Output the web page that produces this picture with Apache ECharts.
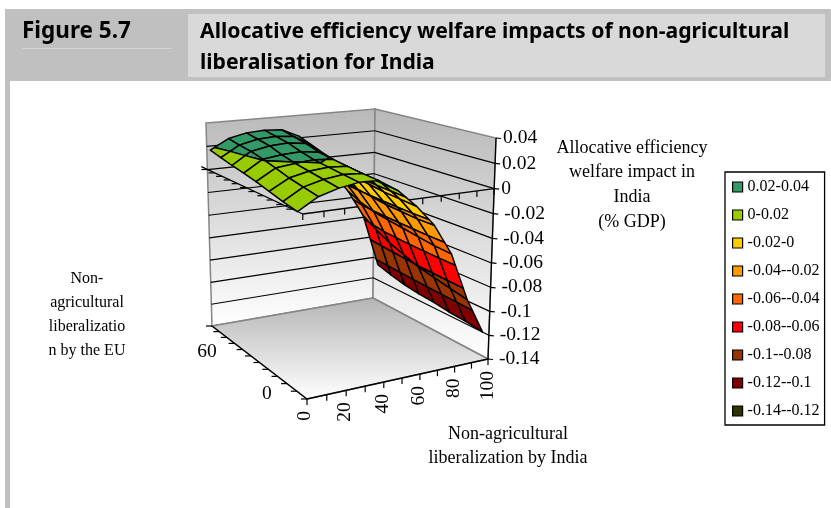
<!DOCTYPE html>
<html><head><meta charset="utf-8">
<style>html,body{margin:0;padding:0;background:#fff}#c{width:831px;height:508px}</style>
<script src="https://cdn.jsdelivr.net/npm/echarts@6/dist/echarts.min.js"></script></head>
<body><div id="c"></div>
<script>
// ---- data ----
const indiaLib = [0,10,20,30,40,50,60,70,80,90,100];
const indiaTickLabels = ['0','','20','','40','','60','','80','','100'];
const euSlots = [0,10,20,30,40,50,60,70,80,90,100];
const euTickLabels = ['0','','','','','','60','','','',''];
const zTicks = [0.04,0.02,0,-0.02,-0.04,-0.06,-0.08,-0.1,-0.12,-0.14];
const zTickLabels = ['0.04','0.02','0','-0.02','-0.04','-0.06','-0.08','-0.1','-0.12','-0.14'];
const row0 = [0,    .009, .0135,.016, .0155,.006, -.008,-.025,-.050,-.090,-.120];
const row1 = [.0025,.0115,.0155,.0175,.0165,.0075,-.007,-.025,-.049,-.087,-.118];
const row2 = [.0055,.014, .0175,.019, .018, .009, -.006,-.024,-.047,-.084,-.117];
const row3 = [.0085,.0175,.0195,.0208,.0195,.0105,-.004,-.023,-.045,-.081,-.115];
const row4 = [.011, .0205,.0225,.0235,.0215,.012, -.002,-.021,-.043,-.076,-.114];
const row5 = [.013, .023, .026, .027, .025, .015,  .000,-.019,-.041,-.071,-.112];
const row6 = [.0155,.0245,.028, .029, .0275,.019,  .002,-.016,-.037,-.064,-.109];
const row7 = [.018, .0265,.030, .031, .030, .023,  .004,-.012,-.031,-.056,-.105];
const surface = [row0,row1,row2,row3,row4,row5,row6,row7];
const bandNames = ['0.02-0.04','0-0.02','-0.02-0','-0.04--0.02','-0.06--0.04','-0.08--0.06','-0.1--0.08','-0.12--0.1','-0.14--0.12'];
const bandLo = [0.02,0,-0.02,-0.04,-0.06,-0.08,-0.1,-0.12,-0.14];
const bandHi = [0.04,0.02,0,-0.02,-0.04,-0.06,-0.08,-0.1,-0.12];
const bandColors = ['#339966','#99cc00','#ffcc00','#ff9900','#ff6600','#ff0000','#993300','#800000','#333300'];

// ---- oblique 3D view of the box: corners order front, right, back, left ----
const floorQuad = [[307,399],[488,359],[373,298],[212,326]];
const ceilQuad  = [[301.5,159],[496,138],[375,109],[206,123]];
const zMin=-0.14, zMax=0.04, perspK=0.041, catInset=0.5/11;
function homography(q){
  const [x0,y0]=q[0],[x1,y1]=q[1],[x2,y2]=q[2],[x3,y3]=q[3];
  const dx1=x1-x2,dx2=x3-x2,sx=x0-x1+x2-x3,dy1=y1-y2,dy2=y3-y2,sy=y0-y1+y2-y3;
  const den=dx1*dy2-dx2*dy1,g=(sx*dy2-dx2*sy)/den,h=(dx1*sy-sx*dy1)/den;
  const a=x1-x0+g*x1,b=x3-x0+h*x3,d=y1-y0+g*y1,e=y3-y0+h*y3;
  return (u,v)=>{const w=g*u+h*v+1;return [(a*u+b*v+x0)/w,(d*u+e*v+y0)/w];};
}
const hF=homography(floorQuad),hC=homography(ceilQuad);
function project(u,v,z){
  let f=(z-zMin)/(zMax-zMin); f=f/(1+perspK*(1-f));
  const p=hF(u,v),q=hC(u,v);
  return [p[0]+(q[0]-p[0])*f,p[1]+(q[1]-p[1])*f];
}
const uOf=i=>i/(indiaLib.length-1);
const vOf=j=>catInset+(1-2*catInset)*j/(surface.length-1);
const vBand=j=>(j+0.5)/euSlots.length;

function clip(poly,limit,keepAbove){
  const out=[];
  for(let k=0;k<poly.length;k++){
    const a=poly[k],b=poly[(k+1)%poly.length];
    const ina=keepAbove?a[2]>=limit:a[2]<=limit, inb=keepAbove?b[2]>=limit:b[2]<=limit;
    if(ina)out.push(a);
    if(ina!==inb){const t=(limit-a[2])/(b[2]-a[2]);out.push([a[0]+(b[0]-a[0])*t,a[1]+(b[1]-a[1])*t,limit]);}
  }
  return out;
}
function cellBand(i,j,b){
  const c=[[uOf(i),vOf(j),surface[j][i]],[uOf(i+1),vOf(j),surface[j][i+1]],
           [uOf(i+1),vOf(j+1),surface[j+1][i+1]],[uOf(i),vOf(j+1),surface[j+1][i]]];
  let p=clip(c,bandLo[b],true); if(p.length>2)p=clip(p,bandHi[b],false);
  return p;
}
const blk='#000', wallEdge='#858585', serif='"Liberation Serif"', tickFont='19.5px '+serif;
const grad=(a,b,x0,y0,x1,y1)=>new echarts.graphic.LinearGradient(x0,y0,x1,y1,[{offset:0,color:a},{offset:1,color:b}]);
const line=(a,b,stroke,w)=>({type:'line',shape:{x1:a[0],y1:a[1],x2:b[0],y2:b[1]},style:{stroke,lineWidth:w}});

const series=[];
// walls and floor
series.push({type:'custom',coordinateSystem:'none',silent:true,z:1,animation:false,data:[0,1,2],renderItem(p,api){
  const k=api.value(0);
  const quads=[[[0,1],[1,1]],[[1,1],[1,0]]];
  if(k<2){
    const [a,b]=quads[k];
    const pts=[project(a[0],a[1],zMax),project(b[0],b[1],zMax),project(b[0],b[1],zMin),project(a[0],a[1],zMin)];
    return {type:'polygon',shape:{points:pts},style:{fill:grad('#b8b8b8','#ffffff',0,0,0,1),stroke:wallEdge,lineWidth:1.5}};
  }
  return {type:'polygon',shape:{points:[[0,0],[1,0],[1,1],[0,1]].map(c=>project(c[0],c[1],zMin))},
    style:{fill:grad('#b4b4b4','#ffffff',0,0,0,1),stroke:wallEdge,lineWidth:1.5}};
}});
// z grid lines, tick marks and labels on the right-hand axis
series.push({type:'custom',coordinateSystem:'none',silent:true,z:2,animation:false,
  data:zTicks.map((z,i)=>[z,i]),renderItem(p,api){
  const z=api.value(0),i=api.value(1);
  const L=project(0,1,z),B=project(1,1,z),R=project(1,0,z);
  const kids=[];
  if(z>zMin&&z<zMax){kids.push(line(L,B,blk,1.2),line(B,R,blk,1.2));}
  kids.push(line(R,[R[0]+5,R[1]+0.5],blk,1.2));
  kids.push({type:'text',x:R[0]+(z<0?11:7),y:R[1],style:{text:zTickLabels[i],font:tickFont,fill:'#000',textAlign:'left',textVerticalAlign:'middle'}});
  return {type:'group',children:kids};
}});
// axis lines
series.push({type:'custom',coordinateSystem:'none',silent:true,z:3,animation:false,data:[0],renderItem(){
  const zero=0;
  const le=project(0,1,zero);
  return {type:'group',children:[
    line(project(0,0,zMin),project(1,0,zMin),blk,1.3),
    line(project(0,0,zMin),project(0,1,zMin),blk,1.3),
    line(project(1,0,zMin),project(1,0,zMax),blk,1.3),
    line(project(0,0,zero),project(1,0,zero),blk,1.3),
    line(project(0,0,zero),[le[0]-6,le[1]-3],blk,1.3)
  ]};
}});
// India axis ticks and labels
series.push({type:'custom',coordinateSystem:'none',silent:true,z:3,animation:false,
  data:indiaLib.map((x,i)=>[x,i]),renderItem(p,api){
  const i=api.value(1),u=uOf(i);
  const a=project(u,0,zMin),b=project(u,0,0);
  const kids=[line(a,[a[0],a[1]+6],blk,1.2),line(b,[b[0],b[1]+6],blk,1.2)];
  if(indiaTickLabels[i])kids.push({type:'text',x:a[0]-(1-u)*2,y:a[1]+12,rotation:Math.PI/2,
    style:{text:indiaTickLabels[i],font:tickFont,fill:'#000',textAlign:'right',textVerticalAlign:'middle'}});
  return {type:'group',children:kids};
}});
// EU axis ticks and labels (labels sit between ticks)
series.push({type:'custom',coordinateSystem:'none',silent:true,z:3,animation:false,
  data:euSlots.concat([110]).map((y,j)=>[y,j]),renderItem(p,api){
  const j=api.value(1),v=j/euSlots.length;
  const a=project(0,v,zMin),b=project(0,v,0);
  const kids=[line(a,[a[0]-6,a[1]],blk,1.2)];
  if(j>0)kids.push(line(b,[b[0]-6,b[1]],blk,1.2));
  if(euTickLabels[j]){const c=project(0,vBand(j),zMin);
    kids.push({type:'text',x:c[0]-30,y:c[1]-1,style:{text:euTickLabels[j],font:tickFont,fill:'#000',textAlign:'right',textVerticalAlign:'middle'}});}
  return {type:'group',children:kids};
}});
// surface: one series per legend band, painted far cells first
bandNames.forEach((name,b)=>{
  const data=[];
  for(let j=0;j<surface.length-1;j++)for(let i=0;i<indiaLib.length-1;i++){
    if(cellBand(i,j,b).length>2)data.push([i,j]);
  }
  series.push({name,type:'custom',coordinateSystem:'none',silent:true,z:5,animation:false,
    itemStyle:{color:bandColors[b],borderColor:'#000',borderWidth:1},data,
    renderItem(p,api){
      const i=api.value(0),j=api.value(1);
      const pts=cellBand(i,j,b).map(c=>project(c[0],c[1],c[2]));
      return {type:'polygon',z2:(30-i-j)*10+b*0.1,shape:{points:pts},
        style:{fill:bandColors[b],stroke:'#000',lineWidth:1.5,lineJoin:'round'}};
    }});
});

const txt=(text,x,y,font,align)=>({type:'text',x,y,silent:true,style:{text,font,fill:'#000',textAlign:align||'center',textVerticalAlign:'middle'}});
const head='bold 21.15px "Noto Sans"';
const axisFont='16px '+serif, bigFont='18px '+serif;
const graphic=[
  {type:'rect',z:0,shape:{x:5,y:9,width:826,height:72},style:{fill:'#c0c0c0'}},
  {type:'rect',z:0,shape:{x:5,y:81,width:5,height:427},style:{fill:'#c0c0c0'}},
  {type:'rect',z:0,shape:{x:188,y:14,width:637,height:63},style:{fill:'#d9d9d9'}},
  {type:'rect',z:0,shape:{x:22,y:48,width:150,height:1},style:{fill:'#d4d4d4'}},
  txt('Figure 5.7',22,32,'bold 22.5px "Noto Sans"','left'),
  txt('Allocative efficiency welfare impacts of non-agricultural',200,32,head,'left'),
  txt('liberalisation for India',200,63,head,'left'),
  txt('Allocative efficiency',632,148,bigFont),
  txt('welfare impact in',632,172,bigFont),
  txt('India',632,197,bigFont),
  txt('(% GDP)',632,222,bigFont),
  txt('Non-',87,279,axisFont),
  txt('agricultural',87,303,axisFont),
  txt('liberalizatio',87,327,axisFont),
  txt('n by the EU',87,351,axisFont),
  txt('Non-agricultural',508,434,bigFont),
  txt('liberalization by India',508,458,bigFont)
];
const chart=echarts.init(document.getElementById('c'),null,{renderer:'canvas'});
chart.setOption({
  animation:false,
  backgroundColor:'#fff',
  graphic,
  legend:{orient:'vertical',left:725,top:172,itemWidth:10,itemHeight:10,itemGap:12,
    padding:[7,5,6,7],backgroundColor:'#fff',borderColor:'#000',borderWidth:1.3,selectedMode:false,
    icon:'rect',textStyle:{fontFamily:'Liberation Serif',fontSize:16,color:'#000',lineHeight:16},
    itemStyle:{borderColor:'#000',borderWidth:1.2},data:bandNames},
  series
});
</script></body></html>
